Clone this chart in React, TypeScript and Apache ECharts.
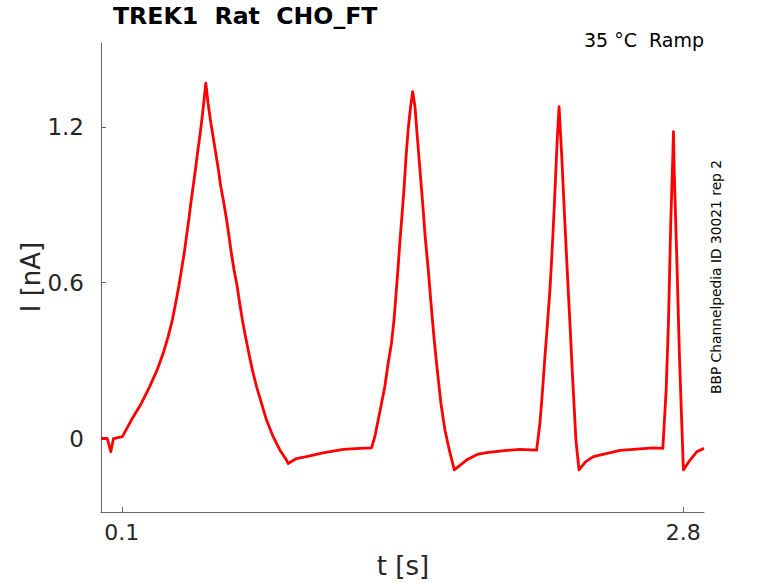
import React, { useEffect, useRef } from "react";
import * as echarts from "echarts";

const timeS = [
  0, 0.03, 0.047, 0.06, 0.103, 0.146, 0.194, 0.234, 0.27, 0.299, 0.323, 0.343, 0.359, 0.374,
  0.387, 0.4, 0.411, 0.422, 0.432, 0.443, 0.454, 0.464, 0.475, 0.485, 0.494, 0.504,
  0.515, 0.526, 0.539, 0.552, 0.565, 0.576, 0.591, 0.604, 0.616, 0.627, 0.64, 0.655, 0.667,
  0.68, 0.695, 0.711, 0.728, 0.748, 0.772, 0.796, 0.828, 0.86, 0.892, 0.9, 0.94,
  0.988, 1.068, 1.165, 1.245, 1.301,
  1.317, 1.333, 1.349, 1.365, 1.381, 1.397, 1.409, 1.418, 1.428, 1.437, 1.447, 1.457, 1.466,
  1.477, 1.489, 1.499, 1.51, 1.521, 1.534, 1.547, 1.559, 1.574, 1.587, 1.601, 1.617, 1.635,
  1.654, 1.675, 1.699, 1.758, 1.814, 1.855, 1.951, 2.015, 2.095,
  2.111, 2.123, 2.135, 2.147, 2.159, 2.17, 2.18, 2.194, 2.203, 2.216, 2.231, 2.247, 2.258,
  2.267, 2.284, 2.299, 2.33, 2.368, 2.496, 2.656, 2.702,
  2.718, 2.729, 2.74, 2.75, 2.753, 2.757, 2.769, 2.782, 2.793, 2.801, 2.833, 2.865, 2.9,
];
const currentNA = [
  0, 0.0, -0.051, 0.0, 0.007, 0.071, 0.135, 0.2, 0.264, 0.328, 0.392, 0.456, 0.521, 0.585,
  0.649, 0.713, 0.777, 0.842, 0.906, 0.97, 1.034, 1.098, 1.163, 1.227, 1.291, 1.368,
  1.291, 1.227, 1.163, 1.098, 1.034, 0.97, 0.906, 0.842, 0.777, 0.713, 0.649, 0.585, 0.521,
  0.456, 0.392, 0.328, 0.264, 0.2, 0.135, 0.071, 0.007, -0.044, -0.083, -0.096, -0.077,
  -0.07, -0.055, -0.042, -0.038, -0.036,
  0.007, 0.071, 0.135, 0.2, 0.29, 0.367, 0.456, 0.546, 0.649, 0.752, 0.854, 0.957, 1.073,
  1.188, 1.278, 1.336, 1.278, 1.163, 1.034, 0.906, 0.777, 0.649, 0.521, 0.392, 0.264, 0.135,
  0.033, -0.044, -0.121, -0.083, -0.06, -0.054, -0.046, -0.042, -0.045,
  0.059, 0.18, 0.315, 0.44, 0.572, 0.73, 0.893, 1.15, 1.278, 1.086, 0.829, 0.572, 0.4,
  0.251, -0.006, -0.121, -0.09, -0.07, -0.046, -0.036, -0.038,
  0.187, 0.444, 0.829, 1.086, 1.182, 1.022, 0.7, 0.315, 0.059, -0.121, -0.083, -0.051, -0.038,
];
const xTicks = [0.1, 2.8];
const yTicks = [0, 0.6, 1.2];

const titleText = "TREK1  Rat  CHO_FT";
const subText = "35 °C  Ramp";
const sideText = "BBP Channelpedia ID 30021 rep 2";
const xName = "t [s]";
const yName = "I [nA]";

export default function App() {
  const ref = useRef<HTMLDivElement>(null);
  useEffect(() => {
    if (!ref.current) return;
    const chart = echarts.init(ref.current, null, { renderer: "svg" });
    const font = "'DejaVu Sans', sans-serif";
    chart.setOption({
      animation: false,
      backgroundColor: "#ffffff",
      grid: { left: 101, right: 74, top: 43, bottom: 71, containLabel: false },
      xAxis: {
        type: "value",
        min: 0,
        max: 2.9,
        axisLine: { show: true, onZero: false, lineStyle: { color: "#666666", width: 1 } },
        axisTick: { show: true, inside: true, length: 5, customValues: xTicks, lineStyle: { color: "#666666" } },
        axisLabel: {
          customValues: xTicks,
          color: "#262626",
          fontSize: 22,
          fontFamily: font,
          margin: 9,
          formatter: (v: number) => String(v),
        },
        splitLine: { show: false },
      },
      yAxis: {
        type: "value",
        min: -0.283,
        max: 1.523,
        axisLine: { show: true, onZero: false, lineStyle: { color: "#666666", width: 1 } },
        axisTick: { show: true, inside: true, length: 5, customValues: yTicks, lineStyle: { color: "#666666" } },
        axisLabel: {
          customValues: yTicks,
          color: "#262626",
          fontSize: 23,
          fontFamily: font,
          margin: 17,
          formatter: (v: number) => String(v),
        },
        splitLine: { show: false },
      },
      series: [
        {
          type: "line",
          data: timeS.map((t, i) => [t, currentNA[i]]),
          showSymbol: false,
          symbol: "none",
          lineStyle: { color: "#ff0000", width: 2.8, join: "round" },
          clip: true,
        },
      ],
      graphic: [
        {
          type: "text",
          left: 113,
          top: 4,
          style: { text: titleText, font: `bold 23.6px ${font}`, fill: "#000000" },
        },
        {
          type: "text",
          right: 74,
          top: 30,
          style: { text: subText, font: `19px ${font}`, fill: "#000000" },
        },
        {
          type: "text",
          x: 716,
          y: 277,
          rotation: Math.PI / 2,
          style: {
            text: sideText,
            font: `13.8px ${font}`,
            fill: "#000000",
            align: "center",
            verticalAlign: "middle",
          },
        },
        {
          type: "text",
          x: 403,
          y: 566,
          style: {
            text: xName,
            font: `26px ${font}`,
            fill: "#262626",
            align: "center",
            verticalAlign: "middle",
          },
        },
        {
          type: "text",
          x: 31,
          y: 277,
          rotation: Math.PI / 2,
          style: {
            text: yName,
            font: `26px ${font}`,
            fill: "#262626",
            align: "center",
            verticalAlign: "middle",
          },
        },
      ],
    });
    return () => chart.dispose();
  }, []);
  return (
    <div
      ref={ref}
      style={{ position: "absolute", left: 0, top: 0, width: 778, height: 583 }}
    />
  );
}
